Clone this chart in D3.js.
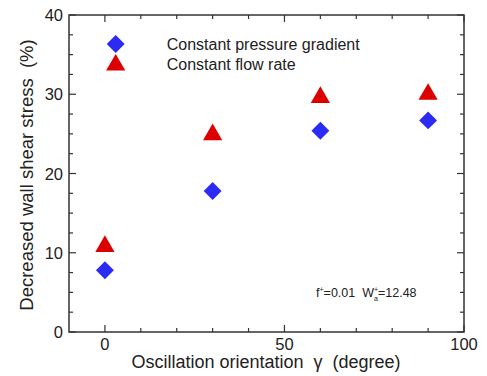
<!DOCTYPE html>
<html>
<head>
<meta charset="utf-8">
<script src="https://cdn.jsdelivr.net/npm/d3@7"></script>
<style>
  body { margin: 0; background: #fff; }
  text { font-family: "Liberation Sans", Arial, sans-serif; fill: #222; white-space: pre; }
</style>
</head>
<body>
<div id="chart"></div>
<script>
// data
const angles = [0, 30, 60, 90];
const pressureGradient = [7.8, 17.8, 25.4, 26.7];
const flowRate = [10.8, 24.9, 29.6, 30.0];
const xTicks = [0, 50, 100];
const yTicks = [0, 10, 20, 30, 40];
const seriesNames = ["Constant pressure gradient", "Constant flow rate"];

const W = 487, H = 376;
const margin = { top: 15, right: 23, bottom: 44, left: 69 };
const width = W - margin.left - margin.right,
      height = H - margin.top - margin.bottom;

const svg = d3.select("#chart").append("svg")
  .attr("width", W).attr("height", H);
const g = svg.append("g")
  .attr("transform", `translate(${margin.left},${margin.top})`);

const x = d3.scaleLinear().domain([-10, 100]).range([0, width]);
const y = d3.scaleLinear().domain([0, 40]).range([height, 0]);

const axisColor = "#333";

// frame
g.append("rect")
  .attr("width", width).attr("height", height)
  .attr("fill", "none").attr("stroke", axisColor).attr("stroke-width", 1.5);

// ticks (inward, on all four sides)
const xMinor = d3.range(0, 101, 10);
const yMinor = d3.range(0, 40.1, 2.5);
const tickG = g.append("g").attr("stroke", axisColor).attr("stroke-width", 1.2);
xMinor.forEach(v => {
  const len = xTicks.includes(v) ? 7 : 4;
  tickG.append("line").attr("x1", x(v)).attr("x2", x(v)).attr("y1", height).attr("y2", height - len);
  tickG.append("line").attr("x1", x(v)).attr("x2", x(v)).attr("y1", 0).attr("y2", len);
});
yMinor.forEach(v => {
  const len = yTicks.includes(v) ? 7 : 4;
  tickG.append("line").attr("y1", y(v)).attr("y2", y(v)).attr("x1", 0).attr("x2", len);
  tickG.append("line").attr("y1", y(v)).attr("y2", y(v)).attr("x1", width).attr("x2", width - len);
});

// tick labels
g.selectAll(".xl").data(xTicks).join("text")
  .attr("x", d => x(d)).attr("y", height + 18)
  .attr("text-anchor", "middle").attr("font-size", 16.5)
  .text(d => d);
g.selectAll(".yl").data(yTicks).join("text")
  .attr("x", -6).attr("y", d => y(d) + 6)
  .attr("text-anchor", "end").attr("font-size", 16.5)
  .text(d => d);

// axis titles
svg.append("text")
  .attr("x", 266).attr("y", H - 8)
  .attr("text-anchor", "middle").attr("font-size", 18)
  .text("Oscillation orientation  \u03b3  (degree)");
svg.append("text")
  .attr("transform", `translate(33,175) rotate(-90)`)
  .attr("text-anchor", "middle").attr("font-size", 18.5)
  .text("Decreased wall shear stress  (%)");

// markers
const diamond = d3.symbol().type(d3.symbolSquare).size(160);
const triangle = d3.symbol().type(d3.symbolTriangle).size(160);
const blue = "#2b2bf5", red = "#dd0000";

g.selectAll(".pg").data(angles).join("path")
  .attr("d", diamond)
  .attr("transform", (d, i) => `translate(${x(d)},${y(pressureGradient[i])}) rotate(45)`)
  .attr("fill", blue);
g.selectAll(".fr").data(angles).join("path")
  .attr("d", triangle)
  .attr("transform", (d, i) => `translate(${x(d)},${y(flowRate[i])})`)
  .attr("fill", red);

// legend
const leg = g.append("g").attr("transform", `translate(${x(3)},${29})`);
leg.append("path").attr("d", diamond).attr("transform", "rotate(45)").attr("fill", blue);
leg.append("path").attr("d", triangle).attr("transform", "translate(0,21)").attr("fill", red);
leg.selectAll("text").data(seriesNames).join("text")
  .attr("x", 51).attr("y", (d, i) => 6 + i * 20)
  .attr("font-size", 16)
  .text(d => d);

// annotation
const ann = g.append("text")
  .attr("x", 247).attr("y", 282).attr("font-size", 12.5);
ann.append("tspan").text("f");
ann.append("tspan").attr("dy", -5).attr("font-size", 7).text("+");
ann.append("tspan").attr("dy", 5).text("=0.01  W");
ann.append("tspan").attr("dy", -5).attr("font-size", 7).text("+");
ann.append("tspan").attr("dx", -4).attr("dy", 9).attr("font-size", 7).text("a");
ann.append("tspan").attr("dy", -4).text("=12.48");
</script>
</body>
</html>
